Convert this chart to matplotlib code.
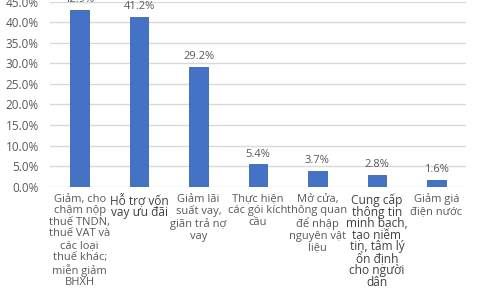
import matplotlib
matplotlib.use("Agg")
import matplotlib.pyplot as plt
from matplotlib.ticker import FuncFormatter, MultipleLocator

categories = [
    "Giảm, cho\nchậm nộp\nthuế TNDN,\nthuế VAT và\ncác loại\nthuế khác;\nmiễn giảm\nBHXH",
    "Hỗ trợ vốn\nvay ưu đãi",
    "Giảm lãi\nsuất vay,\ngiãn trả nợ\nvay",
    "Thực hiện\ncác gói kích\ncầu",
    "Mở cửa,\nthông quan\nđể nhập\nnguyên vật\nliệu",
    "Cung cấp\nthông tin\nminh bạch,\ntạo niềm\ntin, tâm lý\nổn định\ncho người\ndân",
    "Giảm giá\nđiện nước",
]
values = [42.9, 41.2, 29.2, 5.4, 3.7, 2.8, 1.6]
value_labels = ["42.9%", "41.2%", "29.2%", "5.4%", "3.7%", "2.8%", "1.6%"]

plt.rcParams['font.family'] = ['Open Sans', 'DejaVu Sans']

fig = plt.figure(figsize=(4.8, 2.88), dpi=100)
ax = fig.add_axes([0.104, 0.352, 0.867, 0.642])

x = list(range(len(values)))
ax.bar(x, values, width=0.31, color="#4472C4", edgecolor="#3a64b0", linewidth=0.6, zorder=3)

for xi, v, lab in zip(x, values, value_labels):
    ax.text(xi, v + 1.2, lab, ha="center", va="bottom", fontsize=8, color="#595959")

ax.set_xlim(-0.5, len(values) - 0.5)
ax.set_ylim(0, 45)
ax.yaxis.set_major_locator(MultipleLocator(5))
ax.yaxis.set_major_formatter(FuncFormatter(lambda v, p: f"{v:.1f}%"))
ax.grid(axis="y", color="#d9d9d9", linewidth=1.0, zorder=0)
ax.set_axisbelow(True)
for s in ax.spines.values():
    s.set_visible(False)
ax.tick_params(axis="y", length=0, labelsize=8.5, labelcolor="#595959", pad=8)
ax.tick_params(axis="x", length=0, pad=5)
ax.set_xticks(x)
ax.set_xticklabels(categories, va="top", ha="center")
for i, t in enumerate(ax.get_xticklabels()):
    if i in (1, 5):
        t.set_fontsize(8.6)
        t.set_color("#404040")
        t.set_linespacing(0.86)
    else:
        t.set_fontsize(8)
        t.set_color("#595959")
        t.set_linespacing(1.08)

fig.savefig("out.png", dpi=100)
